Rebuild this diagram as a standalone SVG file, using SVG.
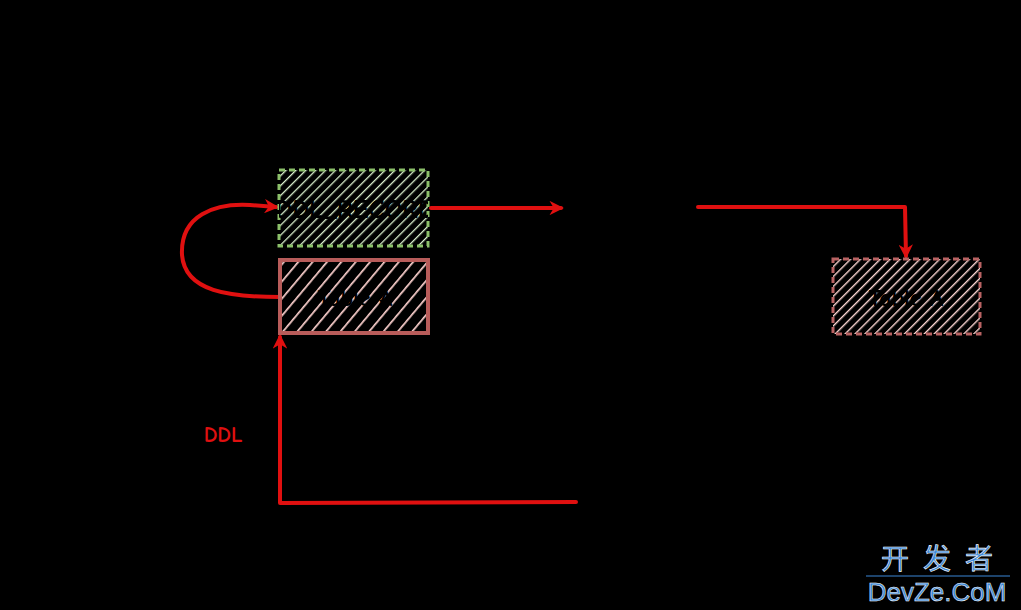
<svg xmlns="http://www.w3.org/2000/svg" width="1021" height="610" viewBox="0 0 1021 610">
  <defs>
    <pattern id="hGreen" patternUnits="userSpaceOnUse" width="7" height="7" patternTransform="rotate(45)">
      <line x1="0" y1="0" x2="0" y2="7" stroke="#dcf2d0" stroke-width="2.6"/>
    </pattern>
    <pattern id="hPinkWide" patternUnits="userSpaceOnUse" width="11" height="11" patternTransform="rotate(40)">
      <line x1="0" y1="0" x2="0" y2="11" stroke="#ffd3d0" stroke-width="3.4"/>
    </pattern>
    <pattern id="hPink" patternUnits="userSpaceOnUse" width="7" height="7" patternTransform="rotate(45)">
      <line x1="0" y1="0" x2="0" y2="7" stroke="#ffd8d5" stroke-width="2.8"/>
    </pattern>
    <marker id="arr" viewBox="0 0 10 10" refX="8" refY="5" markerWidth="3.6" markerHeight="3.6" orient="auto" markerUnits="strokeWidth">
      <path d="M0,0 L10,5 L0,10 L3,5 Z" fill="#e01010"/>
    </marker>
    <clipPath id="clipG"><rect x="279" y="170" width="149" height="76"/></clipPath>
    <clipPath id="clipL"><rect x="280" y="260" width="148" height="73"/></clipPath>
    <clipPath id="clipR"><rect x="833" y="259" width="147" height="75"/></clipPath>
  </defs>
  <style>
    .conn { fill: none; stroke: #e01010; stroke-width: 4; stroke-linecap: round; stroke-linejoin: round; }
    .lbl { font-family: "Comic Neue", "Liberation Sans", sans-serif; font-weight: bold; fill: #000; text-anchor: middle; }
  </style>
  <rect x="0" y="0" width="1021" height="610" fill="#000"/>

  <g id="connectors">
    <path class="conn" d="M280,297 C230,297 185,292 182,255 C180,215 215,203 250,205 L276,207" marker-end="url(#arr)"/>
    <path class="conn" d="M431,208 L561,208" marker-end="url(#arr)"/>
    <path class="conn" d="M698,207 L905,207 L906,256" marker-end="url(#arr)"/>
    <path class="conn" d="M576,502 L280,503 L280,337" marker-end="url(#arr)"/>
  </g>

  <g id="node-ddl-record">
    <rect x="279" y="170" width="149" height="76" fill="url(#hGreen)"/>
    <rect x="279" y="170" width="149" height="76" fill="none" stroke="#8cc06a" stroke-width="3" stroke-dasharray="6 4"/>
    <text class="lbl" x="355" y="218" font-size="27" clip-path="url(#clipG)">DDL_RECORD</text>
  </g>

  <g id="node-table-a-left">
    <rect x="280" y="260" width="148" height="73" fill="url(#hPinkWide)"/>
    <rect x="280" y="260" width="148" height="73" fill="none" stroke="#b85c5a" stroke-width="4"/>
    <text class="lbl" x="355" y="306" font-size="24" clip-path="url(#clipL)">Table A</text>
  </g>

  <g id="node-table-a-right">
    <rect x="833" y="259" width="147" height="75" fill="url(#hPink)"/>
    <rect x="833" y="259" width="147" height="75" fill="none" stroke="#b86262" stroke-width="3" stroke-dasharray="6 4"/>
    <text class="lbl" x="906" y="306" font-size="24" clip-path="url(#clipR)">Table A</text>
  </g>

  <g id="label-ddl">
    <text x="223" y="442" font-family="Comic Neue, Liberation Sans, sans-serif" font-weight="bold" font-size="22" fill="#e01010" text-anchor="middle">DDL</text>
  </g>

  <g id="watermark">
    <text x="944" y="569" font-family="Noto Sans CJK SC, sans-serif" font-size="28" fill="#3a86d6" stroke="#ffffff" stroke-width="0.6" text-anchor="middle" letter-spacing="14">开发者</text>
    <line x1="866" y1="576" x2="1010" y2="576" stroke="#3a86d6" stroke-width="1"/>
    <text x="937" y="601" font-family="Liberation Sans, sans-serif" font-size="26" fill="#3a86d6" stroke="#ffffff" stroke-width="0.5" text-anchor="middle">DevZe.CoM</text>
  </g>
</svg>
